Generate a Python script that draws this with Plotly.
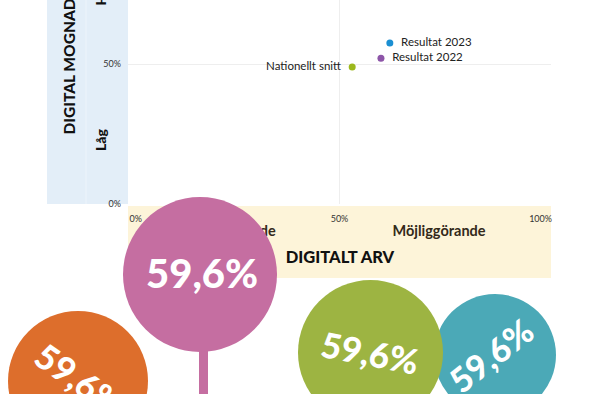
import plotly.graph_objects as go

# ---- data ----
point_labels = ["Resultat 2023", "Resultat 2022", "Nationellt snitt"]
digitalt_arv = [61.9, 59.8, 53.0]        # x, %
digital_mognad = [57.5, 52.1, 48.9]      # y, %
point_colors = ["#1b8fd2", "#8d55a8", "#9cb81c"]
label_pos = ["middle right", "middle right", "middle left"]

x_ticks = [0, 50, 100]
x_ticktext = ["\u2007\u2007\u20070%", "50%", "100%\u2007\u2007\u2007\u2007"]
y_ticks = [0, 50]
y_ticktext = ["0%", "50%"]

bubble_values = ["59,6%", "59,6%", "59,6%", "59,6%"]

W, H = 600, 394
FONT = "Lato"

fig = go.Figure()

# pixel overlay subplot (x/y) -- drawn first, underneath the data subplot
fig.add_trace(go.Scatter(
    x=[234, 439, 340], y=[232, 232, 259], mode="text",
    text=["Begränsande", "Möjliggörande", "DIGITALT ARV"],
    textfont=dict(family=FONT, size=[14.5, 14.5, 16.5], color=["#33291a", "#33291a", "#111111"],
                  weight=[700, 700, 900]),
    xaxis="x", yaxis="y", hoverinfo="skip", showlegend=False, cliponaxis=False))

# data subplot
fig.add_trace(go.Scatter(
    x=digitalt_arv, y=digital_mognad, mode="markers+text",
    text=[("  " + t) if p.endswith("right") else (t + "  ") for t, p in zip(point_labels, label_pos)],
    textposition=label_pos,
    textfont=dict(family=FONT, size=11.5, color="#222222"),
    marker=dict(size=7, color=point_colors),
    xaxis="x2", yaxis="y2", showlegend=False, cliponaxis=False))

shapes = [
    # blue band (y-axis)
    dict(type="rect", xref="x", yref="y", x0=47, x1=128, y0=-2, y1=204,
         fillcolor="#e3eef8", line=dict(width=0), layer="below"),
    dict(type="line", xref="x", yref="y", x0=86, x1=86, y0=-2, y1=204,
         line=dict(color="#edf4fb", width=1), layer="below"),
    # yellow band (x-axis)
    dict(type="rect", xref="x", yref="y", x0=128, x1=551, y0=206, y1=278,
         fillcolor="#fdf4d9", line=dict(width=0), layer="below"),
    # decorative circles
    dict(type="circle", xref="x", yref="y", x0=8, x1=148, y0=311, y1=451,
         fillcolor="#dd6e2c", line=dict(width=0), layer="above"),
    dict(type="rect", xref="x", yref="y", x0=199, x1=208, y0=340, y1=400,
         fillcolor="#c56ea1", line=dict(width=0), layer="above"),
    dict(type="circle", xref="x", yref="y", x0=123, x1=277, y0=197, y1=352,
         fillcolor="#c56ea1", line=dict(width=0), layer="above"),
    dict(type="circle", xref="x", yref="y", x0=434, x1=556, y0=294, y1=416,
         fillcolor="#4ba9b7", line=dict(width=0), layer="above"),
    dict(type="circle", xref="x", yref="y", x0=298, x1=443, y0=280, y1=425,
         fillcolor="#9db442", line=dict(width=0), layer="above"),
]

annotations = [
    dict(text="DIGITAL MOGNAD", x=68.5, y=137, xref="x", yref="y", textangle=-90,
         xanchor="center", yanchor="bottom", showarrow=False,
         font=dict(family=FONT, size=15.5, color="#111111", weight=900)),
    dict(text="Låg", x=100, y=153, xref="x", yref="y", textangle=-90,
         xanchor="center", yanchor="bottom", showarrow=False,
         font=dict(family=FONT, size=14, color="#111111", weight=900)),
    dict(text="Hög", x=100, y=8, xref="x", yref="y", textangle=-90,
         xanchor="center", yanchor="bottom", showarrow=False,
         font=dict(family=FONT, size=14, color="#111111", weight=900)),
]

bubble_geom = [  # (cx, cy, angle, size)
    (80, 379, 35, 35),
    (202, 273, 0, 40),
    (490, 355, -38, 34),
    (370, 352, 11, 35),
]
for val, (cx, cy, ang, sz) in zip(bubble_values, bubble_geom):
    annotations.append(dict(text=val, x=cx, y=cy, xref="x", yref="y", textangle=ang,
                            showarrow=False, xanchor="center", yanchor="middle",
                            font=dict(family=FONT, size=sz, color="white", weight=900)))

fig.update_layout(
    template="none",
    width=W, height=H, margin=dict(l=0, r=0, t=0, b=0, pad=0, autoexpand=False),
    paper_bgcolor="white", plot_bgcolor="rgba(0,0,0,0)",
    showlegend=False, shapes=shapes, annotations=annotations,
    xaxis=dict(domain=[0, 1], range=[0, W], visible=False, fixedrange=True, automargin=False),
    yaxis=dict(domain=[0, 1], range=[H, 0], visible=False, fixedrange=True, automargin=False),
    xaxis2=dict(domain=[128 / W, 551 / W], range=[0, 100], anchor="y2", automargin=False,
                tickvals=x_ticks, ticktext=x_ticktext, showgrid=True,
                gridcolor="#eeeeee", gridwidth=1, zeroline=False, showline=False,
                ticks="", ticklabelstandoff=8,
                tickfont=dict(family=FONT, size=9, color="#333333")),
    yaxis2=dict(domain=[1 - 204 / H, 1], range=[0, 72.86], anchor="x2", automargin=False,
                tickvals=y_ticks, ticktext=y_ticktext, showgrid=True,
                gridcolor="#eeeeee", gridwidth=1, zeroline=False, showline=False,
                ticks="", ticklabelstandoff=6,
                tickfont=dict(family=FONT, size=9, color="#333333")),
)

fig.write_html(
    "out.html",
    config={"displayModeBar": False},
    post_script="document.body.style.margin='0';document.body.style.overflow='hidden';",
)
